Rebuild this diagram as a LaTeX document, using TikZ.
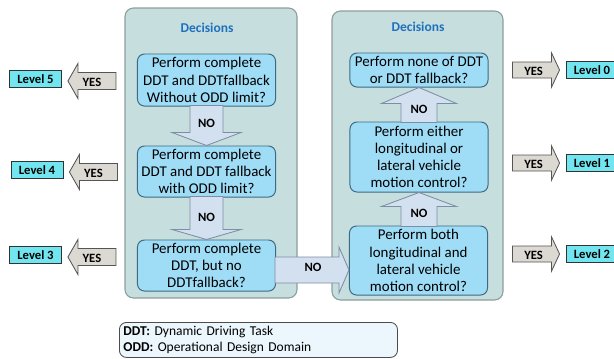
\documentclass[tikz,border=0pt]{standalone}
\usepackage{fontspec}
\setmainfont{Carlito}
\usepackage{xcolor}
\usepackage{tikz}
\usetikzlibrary{calc}

\definecolor{panelfill}{HTML}{C6DFDE}
\definecolor{panelline}{HTML}{8E9E9E}
\definecolor{boxfill}{HTML}{9FDCF6}
\definecolor{boxline}{HTML}{3D6A82}
\definecolor{nofill}{HTML}{D2E0F0}
\definecolor{noline}{HTML}{7D8DA3}
\definecolor{yesfill}{HTML}{DCD8D2}
\definecolor{yesline}{HTML}{555555}
\definecolor{levelfill}{HTML}{72E6F0}
\definecolor{titleblue}{HTML}{1F70BE}
\definecolor{legendfill}{HTML}{EBF7FC}

% block arrow: style, tip, angle, length, shaft half, head half, head length
\newcommand{\blockarrow}[7]{%
  \begin{scope}[shift={(#2)}, rotate=#3]
    \draw[#1] (0,0) -- (-#7,#6) -- (-#7,#5) -- (-#4,#5) -- (-#4,-#5)
      -- (-#7,-#5) -- (-#7,-#6) -- cycle;
  \end{scope}}

\begin{document}
\begin{tikzpicture}[x=0.025cm, y=-0.025cm,
    panel/.style={draw=panelline, fill=panelfill, rounded corners=6pt, line width=0.8pt},
    question/.style={draw=boxline, fill=boxfill, rounded corners=5pt, line width=0.7pt,
      minimum width=3.45cm, align=center, inner sep=1pt,
      font=\fontsize{10.6}{12.2}\selectfont},
    level/.style={draw=black!80, fill=levelfill, line width=0.6pt, minimum width=1.3cm,
      minimum height=0.42cm, inner sep=0pt, font=\fontsize{9}{10}\selectfont\bfseries},
    noarrow/.style={draw=noline, fill=nofill, line width=0.6pt},
    yesarrow/.style={draw=yesline, fill=yesfill, line width=0.6pt},
    lbl/.style={font=\fontsize{9}{10}\selectfont\bfseries, inner sep=0pt},
    title/.style={font=\fontsize{9.6}{10}\selectfont\bfseries, text=titleblue}]
    \useasboundingbox (0,0) rectangle (614,358);

    % Panels
    \draw[panel] (125,8) rectangle (297,298);
    \draw[panel] (332,11) rectangle (503,300);
    \node[title] (titleL) at (207,28) {Decisions};
    \node[title] (titleR) at (418,27) {Decisions};

    % Left column questions
    \node[question, minimum height=1.3cm] (full) at (206.5,80)
      {Perform complete\\DDT and DDTfallback\\Without ODD limit?};
    \node[question, minimum height=1.275cm] (odd) at (206.5,171.5)
      {Perform complete\\DDT and DDT fallback\\with ODD limit?};
    \node[question, minimum height=1.275cm] (nofb) at (206.5,265.5)
      {Perform complete\\DDT, but no\\DDTfallback?};

    % Right column questions
    \node[question, minimum height=0.85cm] (none) at (419,70)
      {Perform none of DDT\\or DDT fallback?};
    \node[question, minimum height=1.75cm] (either) at (419,157)
      {Perform either\\longitudinal or\\lateral vehicle\\motion control?};
    \node[question, minimum height=1.725cm] (both) at (418.5,260.5)
      {Perform both\\longitudinal and\\lateral vehicle\\motion control?};

    % NO arrows
    \blockarrow{noarrow}{odd.north}{-90}{40}{16.5}{34.5}{13}
    \node[lbl] (no1) at (206.5,123) {NO};
    \blockarrow{noarrow}{nofb.north}{-90}{43}{16.5}{34.5}{10}
    \node[lbl] (no2) at (206.5,217) {NO};
    \blockarrow{noarrow}{none.south}{90}{35}{18}{37.5}{16}
    \node[lbl] (no3) at (419,109) {NO};
    \blockarrow{noarrow}{either.south}{90}{34}{18}{37.5}{14}
    \node[lbl] (no4) at (419,213) {NO};
    \coordinate (jump) at (both.west |- 0,270);
    \blockarrow{noarrow}{jump}{0}{74}{13}{23}{10}
    \node[lbl] (no5) at (313,267) {NO};

    % Levels on the left
    \node[level] (l5) at (35.5,79) {Level 5};
    \node[level] (l4) at (37,170) {Level 4};
    \node[level] (l3) at (35.5,255) {Level 3};
    \foreach \lv in {l5,l4,l3} {
      \blockarrow{yesarrow}{$(\lv.east)+(6,2)$}{180}{48}{8.5}{17.5}{10}
      \node[lbl] at ($(\lv.east)+(30,3)$) {YES};
    }

    % Levels on the right
    \node[level] (l0) at (592,70) {Level 0};
    \node[level] (l1) at (592,163) {Level 1};
    \node[level] (l2) at (592,254) {Level 2};
    \foreach \lv in {l0,l1,l2} {
      \blockarrow{yesarrow}{$(\lv.west)+(-6,0)$}{0}{47}{8}{17}{8}
      \node[lbl] at ($(\lv.west)+(-32,1)$) {YES};
    }

    % Legend
    \node[draw=black!70, fill=legendfill, rounded corners=5pt, line width=0.6pt,
      anchor=north west, text width=6.75cm, inner xsep=0.1cm, inner ysep=2pt,
      minimum height=0.875cm, align=left, font=\fontsize{9.6}{11.4}\selectfont]
      (legend) at (119,322)
      {\textbf{DDT:} Dynamic Driving Task\\\textbf{ODD:} Operational Design Domain};
\end{tikzpicture}
\end{document}
